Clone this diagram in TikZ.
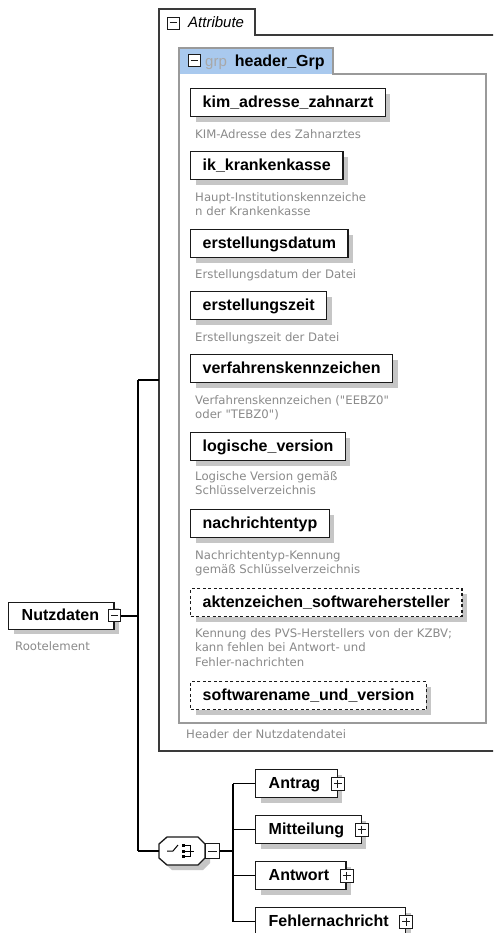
\documentclass[tikz,border=0pt]{standalone}
\usepackage{fontspec}
\setmainfont{Liberation Sans}
\newfontfamily\descfont{DejaVu Sans}
\usetikzlibrary{shapes.misc,shadows}
\definecolor{descgray}{HTML}{8A8A8A}
\definecolor{shadowgray}{HTML}{C6C6C6}
\definecolor{grpblue}{HTML}{A9C9EE}
\definecolor{grpborder}{HTML}{9A9A9A}
\definecolor{boxborder}{HTML}{1A1A1A}
\definecolor{attrborder}{HTML}{3A3A3A}
\definecolor{grptext}{HTML}{A8A8A8}
\newcommand\sq{\XeTeXglyph\XeTeXcharglyph"22\relax}
\begin{document}
\begin{tikzpicture}[x=1pt,y=-1pt,
 conn/.style={line width=1.3pt, draw=black},
 shadowed/.style={drop shadow={shadow xshift=5pt,shadow yshift=-5pt,fill=shadowgray,opacity=1}},
 namefont/.style={font=\fontsize{16}{18}\selectfont\bfseries},
 elbox/.style={namefont, shadowed, draw=boxborder, line width=1.4pt, fill=white, anchor=north west, minimum height=28pt, inner xsep=12pt, inner ysep=0pt, text height=12pt, text depth=3pt},
 optbox/.style={elbox, dash pattern=on 3pt off 2.5pt},
 kidbox/.style={elbox, inner xsep=0pt},
 desc/.style={anchor=north west, inner sep=0pt, align=left, text=descgray, font=\descfont\fontsize{11.7}{14.6}\selectfont, execute at begin node={\rule{0pt}{9pt}}},
 btn/.style={draw=boxborder, line width=1pt, fill=white, minimum size=12pt, inner sep=0pt},
 minusbtn/.style={btn, path picture={\draw[line width=1pt] ([xshift=2.5pt]path picture bounding box.west) -- ([xshift=-2.5pt]path picture bounding box.east);}},
 plusbtn/.style={btn, path picture={\draw[line width=1pt] ([xshift=2.5pt]path picture bounding box.west) -- ([xshift=-2.5pt]path picture bounding box.east) ([yshift=-2.5pt]path picture bounding box.north) -- ([yshift=2.5pt]path picture bounding box.south);}},
]
\useasboundingbox (0,0) rectangle (493,933);
\clip (0,0) rectangle (493,933);
\fill[white] (0,0) rectangle (493,933);

% Attribute frame
\draw[attrborder, line width=1.3pt] (500,35) -- (255,35) -- (255,9) -- (159,9) -- (159,751) -- (500,751);
\node[minusbtn, line width=0.9pt] (amin) at (173,23) {};
\node[anchor=base west, inner sep=0pt, font=\fontsize{15}{18}\selectfont\itshape] (attrlbl) at (188,27.5) {Attribute};

% group frame
\fill[grpblue] (179,48) rectangle (333,74);
\draw[grpborder, line width=1.3pt] (179,723) -- (179,48) -- (333,48) -- (333,74) -- (486,74) -- (486,723) -- cycle;
\node[minusbtn] (gmin) at (194,61) {};
\node[anchor=base west, inner sep=0pt] (grplbl) at (205,67) {\textcolor{grptext}{\fontsize{15}{18}\selectfont grp}\hspace{8pt}{\fontsize{16}{18}\selectfont\bfseries header\_Grp}};

% elements
\node[elbox] (kim) at (190,88) {kim\_adresse\_zahnarzt};
\node[desc] (dkim) at (195,129) {KIM-Adresse des Zahnarztes};
\node[elbox] (ik) at (190,151) {ik\_krankenkasse};
\node[desc] (dik) at (195,192) {Haupt-Institutionskennzeiche\\n der Krankenkasse};
\node[elbox] (edat) at (190,229) {erstellungsdatum};
\node[desc] (dedat) at (195,269) {Erstellungsdatum der Datei};
\node[elbox] (ezeit) at (190,291) {erstellungszeit};
\node[desc] (dezeit) at (195,332) {Erstellungszeit der Datei};
\node[elbox] (verf) at (190,354) {verfahrenskennzeichen};
\node[desc] (dverf) at (195,395) {Verfahrenskennzeichen (\sq EEBZ0\sq\\oder \sq TEBZ0\sq)};
\node[elbox] (logv) at (190,432) {logische\_version};
\node[desc] (dlogv) at (195,471) {Logische Version gemäß\\Schlüsselverzeichnis};
\node[elbox] (ntyp) at (190,509) {nachrichtentyp};
\node[desc] (dntyp) at (195,550) {Nachrichtentyp-Kennung\\gemäß Schlüsselverzeichnis};
\node[optbox] (akz) at (190,588) {aktenzeichen\_softwarehersteller};
\node[desc] (dakz) at (195,628) {Kennung des PVS-Herstellers von der KZBV;\\kann fehlen bei Antwort- und\\Fehler-nachrichten};
\node[optbox] (swn) at (190,681) {softwarename\_und\_version};
\node[desc] (dhdr) at (186,729) {Header der Nutzdatendatei};

% root
\node[kidbox, minimum height=26.5pt] (nutz) at (8,602) {\kern13pt Nutzdaten\kern15pt};
\node[minusbtn] (nmin) at (nutz.east) {};
\node[desc] (root) at (15,641) {Rootelement};

% choice (octagon)
\node[minimum width=46pt, minimum height=28pt, inner sep=0pt] (choice) at (182,851) {};
\begin{scope}[shift={(choice.center)}]
 \draw[draw=boxborder, line width=1.3pt, fill=white, shadowed] (-23,-7) -- (-23,7) -- (-15,14) -- (16,14) -- (23,7) -- (23,-7) -- (16,-14) -- (-15,-14) -- cycle;
 \draw[line width=1pt] (-15,0) -- (-9,0) -- (-4,-6);
 \fill (0,-7) rectangle (3,-4);
 \fill (0,-1.5) rectangle (3,1.5);
 \fill (0,4) rectangle (3,7);
 \draw[line width=1pt] (3,-5.5) -- (8,-5.5) -- (8,5.5) -- (3,5.5);
 \draw[line width=1pt] (3,0) -- (12,0);
\end{scope}
\node[minusbtn, minimum width=14pt, minimum height=15pt, anchor=west] (cmin) at (choice.east) {};

% children
\node[kidbox] (antrag) at (255,769) {\kern13pt Antrag\kern17pt};
\node[plusbtn, minimum size=13pt] (pantrag) at (antrag.east) {};
\node[kidbox] (mitt) at (255,815) {\kern13pt Mitteilung\kern17pt};
\node[plusbtn, minimum size=13pt] (pmitt) at (mitt.east) {};
\node[kidbox] (antw) at (255,861) {\kern13pt Antwort\kern17pt};
\node[plusbtn, minimum size=13pt] (pantw) at (antw.east) {};
\node[kidbox] (fehl) at (255,907) {\kern13pt Fehlernachricht\kern17pt};
\node[plusbtn, minimum size=13pt] (pfehl) at (fehl.east) {};

% connectors
\coordinate (spT) at (138,380);
\coordinate (spB) at (138,851);
\coordinate (attrL) at (159,380);
\coordinate (csX) at (233,851);
\draw[conn] (spT) -- (spB);
\draw[conn] (spT) -- (attrL);
\draw[conn] (nmin.east) -- (nmin.east -| spT);
\draw[conn] (spB) -- (choice.west);
\draw[conn] (cmin.east) -- (cmin.east -| csX);
\draw[conn] (antrag.west -| csX) -- (fehl.west -| csX);
\draw[conn] (antrag.west -| csX) -- (antrag.west);
\draw[conn] (mitt.west -| csX) -- (mitt.west);
\draw[conn] (antw.west -| csX) -- (antw.west);
\draw[conn] (fehl.west -| csX) -- (fehl.west);
\end{tikzpicture}
\end{document}
